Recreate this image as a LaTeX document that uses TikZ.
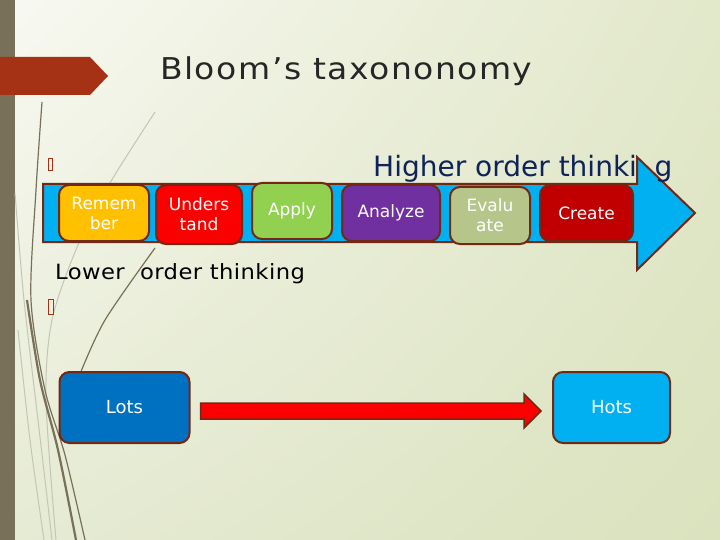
\documentclass[tikz,border=0pt]{standalone}
\usepackage{fontspec}
\setmainfont{DejaVu Sans}
\newfontfamily\titlefont[FakeStretch=1.1,LetterSpace=5]{DejaVu Sans}
\newfontfamily\lowerfont[FakeStretch=1.08,LetterSpace=2]{DejaVu Sans}
\usetikzlibrary{positioning,calc,shadings}
\definecolor{slidebar}{RGB}{120,112,88}
\definecolor{banner}{RGB}{165,50,20}
\definecolor{edge}{RGB}{115,40,20}
\definecolor{titlegray}{RGB}{38,38,38}
\definecolor{navy}{RGB}{15,35,90}
\definecolor{skyblue}{RGB}{0,176,240}
\definecolor{lotsblue}{RGB}{0,112,192}
\definecolor{remorange}{RGB}{255,192,0}
\definecolor{undred}{RGB}{250,0,0}
\definecolor{applygreen}{RGB}{146,208,80}
\definecolor{anapurple}{RGB}{112,48,160}
\definecolor{evalolive}{RGB}{182,198,138}
\definecolor{createred}{RGB}{192,0,0}
\definecolor{wispdark}{RGB}{120,112,88}
\definecolor{wisplight}{RGB}{196,198,178}
\definecolor{bgul}{RGB}{248,249,242}
\definecolor{bgur}{RGB}{226,232,202}
\definecolor{bgll}{RGB}{230,235,212}
\definecolor{bglr}{RGB}{218,226,190}
\newcommand{\boxfont}{\fontsize{17}{20}\selectfont}

\begin{document}
\begin{tikzpicture}[
  x=1pt, y=-1pt,
  level/.style={draw=edge, line width=2pt, rounded corners=10pt, text=white, align=center, font=\boxfont, inner sep=0pt},
  tofu/.style={draw=banner, line width=0.8pt, inner sep=0pt},
  plain/.style={anchor=base west, inner sep=0pt},
  wisp/.style={wispdark, line width=1.2pt},
  wispthin/.style={wisplight, line width=1pt},
]
% ---------------- slide background ----------------
\useasboundingbox (0,0) rectangle (720,540);
\shade[upper left=bgul, upper right=bgur, lower left=bgll, lower right=bglr] (0,0) rectangle (720,540);
\fill[slidebar] (0,0) rectangle (15,540);

% wisps down the left side
\draw[wispthin] plot[smooth] coordinates {(155,112) (110,183) (78,245) (52,320) (46,400) (56,540)};
\draw[wispthin] plot[smooth] coordinates {(15,193) (24,300) (38,420) (52,540)};
\draw[wispthin] plot[smooth] coordinates {(18,330) (30,440) (44,540)};
\draw[wisp] plot[smooth] coordinates {(42,102) (36,190) (31,300) (45,390) (65,455) (85,540)};
\draw[wisp, line width=2.2pt] plot[smooth] coordinates {(27,300) (40,380) (58,450) (76,540)};
\draw[wisp] plot[smooth] coordinates {(155,248) (105,320) (80,374)};

% ---------------- title ----------------
\fill[banner] (0,57) -- (90,57) -- (108,76) -- (90,95) -- (0,95) -- cycle;
\node[plain, text=titlegray, font=\titlefont\fontsize{30}{32}\selectfont] (title) at (160,80) {Bloom’s taxononomy};

\node[tofu, minimum width=4pt, minimum height=12pt] (bullet1) at (50,164) {};
\node[tofu, minimum width=5pt, minimum height=15pt] (bullet2) at (50.5,306.5) {};

% ---------------- big arrow with the six levels ----------------
\filldraw[fill=skyblue, draw=edge, line width=2pt]
  (43,184) -- (637,184) -- (637,157) -- (695,213) -- (637,270) -- (637,242) -- (43,242) -- cycle;

% the arrow head hides the n
\node[plain, text=navy, font=\fontsize{28}{30}\selectfont] (higher) at (373,177) {Higher order thinki\phantom{n}g};

\node[level, fill=remorange,  minimum width=90pt, minimum height=56pt] (remember)   at (104,213)   {Remem\\ber};
\node[level, fill=undred,     minimum width=86pt, minimum height=59pt] (understand) at (199,214.5) {Unders\\tand};
\node[level, fill=applygreen, minimum width=80pt, minimum height=56pt] (apply)      at (292,211)   {Apply};
\node[level, fill=anapurple,  minimum width=98pt, minimum height=56pt] (analyze)    at (391,213)   {Analyze};
\node[level, fill=evalolive,  minimum width=80pt, minimum height=57pt] (evaluate)   at (490,215.5) {Evalu\\ate};
\node[level, fill=createred,  minimum width=93pt, minimum height=56pt] (create)     at (586.5,213) {Create};

\node[plain, font=\lowerfont\fontsize{21}{24}\selectfont] (lower) at (55,279) {Lower\ \ order thinking};

% ---------------- lots -> hots ----------------
\node[level, fill=lotsblue, minimum width=130pt, minimum height=71pt, font=\fontsize{18}{20}\selectfont] (lots) at (124.5,407.5) {Lots};
\node[level, fill=skyblue,  minimum width=117pt, minimum height=71pt, font=\fontsize{18}{20}\selectfont] (hots) at (611.5,407.5) {Hots};

\filldraw[fill=undred, draw=edge, line width=1.5pt]
  ($(lots.east)+(10,-4.5)$) -- ($(hots.west)+(-28,-4.5)$) -- ($(hots.west)+(-28,-13.5)$)
  -- ($(hots.west)+(-11,3.5)$)
  -- ($(hots.west)+(-28,20.5)$) -- ($(hots.west)+(-28,11.5)$) -- ($(lots.east)+(10,11.5)$) -- cycle;
\end{tikzpicture}
\end{document}
